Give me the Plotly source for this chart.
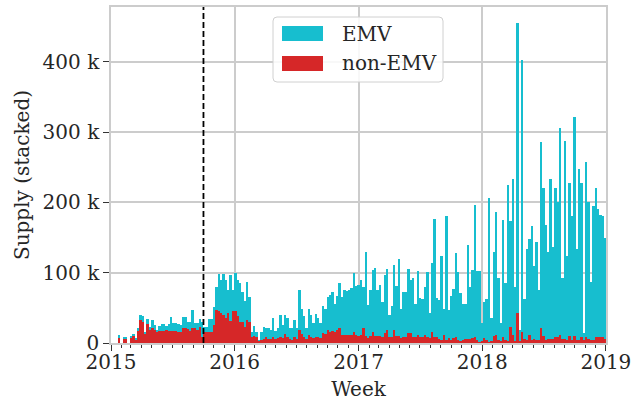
import pandas as pd
import plotly.graph_objects as go

# Weekly supply (thousands), week labels are Sundays starting 2015-01-04
non_emv_k = [0, 0, 0, 8.5, 0, 7, 7, 0, 7.5, 10, 4.5, 17, 33, 30, 14, 27, 19, 21, 19, 15.5,
             17.5, 17, 17.5, 18.5, 17, 17.5, 17.5, 17.5, 16, 15, 22, 22, 20, 17.5, 22, 21, 18, 23, 9, 16,
             16, 16, 16, 26, 47, 45, 42, 40, 36, 42, 32, 45, 45, 38, 30, 30, 23, 33, 30, 9,
             10, 8, 3, 4, 6, 9, 6, 5, 9, 6, 7, 9, 7, 13, 9, 5, 4, 8, 6, 18,
             13, 8, 5, 11, 8, 7, 8, 8, 7, 14, 13, 18, 15, 17, 15, 18, 22, 11, 12, 12,
             11, 11, 16, 11, 10, 11, 21, 10, 7, 10, 16, 10, 10, 10, 9, 14, 18, 9, 9, 18,
             10, 10, 7, 9, 9, 14, 14, 9, 9, 11, 9, 9, 11, 9, 7, 16, 9, 9, 6, 4,
             12, 4, 7, 4, 7, 9, 4, 3, 4, 6, 6, 6, 7, 9, 4, 2, 3, 7, 4, 2,
             3, 10, 11, 4, 3, 8, 4, 3, 23, 11, 3, 43, 3, 16, 5, 4, 11, 4, 5, 4,
             4, 21, 10, 4, 5, 6, 6, 9, 8, 12, 6, 6, 4, 10, 4, 10, 4, 4, 8, 4,
             9, 6, 4, 4, 8, 8, 8, 8, 6]

emv_k = [0, 0, 0, 2.5, 0, 2, 2, 0, 2.5, 3, 2, 4, 7, 8, 2, 7, 4, 12, 7, 3,
         6.5, 9.5, 9, 5.5, 9.5, 19.5, 10.5, 11.5, 11, 10.5, 15, 15, 10, 12.5, 25, 7, 11, 11, 21, 7,
         7, 18, 18, 25, 32, 53, 48, 58, 53, 33, 65, 30, 54, 52, 55, 43, 37, 54, 36, 7,
         14, 8, 1, 12, 17, 13, 15, 14, 27, 11.5, 14, 31, 19, 27, 27, 17, 18, 25, 16, 57,
         36, 30, 17, 38, 32, 21, 33, 27, 22, 38, 36, 48, 53, 55, 40, 49, 64, 54, 63, 62,
         64, 67, 83, 70, 72, 79, 59, 120, 47, 65, 88, 96, 65, 72, 50, 83, 87, 31, 44, 93,
         71, 109, 41, 64, 63, 91, 76, 84, 46, 92, 55, 53, 68, 92, 35, 98, 168, 55, 55, 120,
         37, 176, 40, 63, 70, 119, 97, 68, 52, 50, 134, 73, 97, 187, 98, 100, 25, 52, 58, 204,
         32, 120, 176, 88, 25, 167, 81, 222, 151, 222, 76, 412, 15, 386, 58, 130, 137, 162, 104, 140,
         71, 265, 211, 164, 125, 227, 131, 212, 192, 294, 86, 282, 120, 218, 177, 312, 130, 244, 220, 10,
         249, 194, 83, 191, 212, 183, 174, 173, 143]

weeks = pd.date_range("2015-01-04", periods=len(emv_k), freq="7D")

year_ticks = ["2015-01-01", "2016-01-01", "2017-01-01", "2018-01-01", "2019-01-01"]
year_labels = ["2015", "2016", "2017", "2018", "2019"]
y_ticks = [0, 100, 200, 300, 400]
y_labels = ["0", "100 k", "200 k", "300 k", "400 k"]
cutoff_date = "2015-10-01"

TEAL = "#17becf"
RED = "#d62728"
GRID = "#cccccc"
TXT = "#262626"
FONT = "DejaVu Serif"
week_ms = 7 * 24 * 3600 * 1000

fig = go.Figure()
fig.add_trace(go.Bar(x=weeks, y=non_emv_k, name="non-EMV", marker=dict(color=RED, line=dict(width=0)),
                     width=week_ms, showlegend=False))
fig.add_trace(go.Bar(x=weeks, y=emv_k, name="EMV", marker=dict(color=TEAL, line=dict(width=0)),
                     width=week_ms, showlegend=False))

# px -> paper helpers for legend box
L, R, T, B = 111, 606, 7, 343
def px(x):
    return (x - L) / (R - L)
def py(y):
    return (B - y) / (B - T)

x0, x1, y0, y1 = px(273), px(443), py(82), py(17)
rx, ry = 4 / (R - L), 4 / (B - T)
legend_path = (f"M {x0+rx},{y0} L {x1-rx},{y0} Q {x1},{y0} {x1},{y0+ry} L {x1},{y1-ry} Q {x1},{y1} {x1-rx},{y1} "
               f"L {x0+rx},{y1} Q {x0},{y1} {x0},{y1-ry} L {x0},{y0+ry} Q {x0},{y0} {x0+rx},{y0} Z")

shapes = [
    dict(type="line", xref="x", yref="paper", x0=cutoff_date, x1=cutoff_date, y0=0, y1=1,
         line=dict(color="black", width=1.8, dash="6px,3px"), layer="above"),
    dict(type="path", xref="paper", yref="paper", path=legend_path,
         line=dict(color="#d0d0d0", width=1), fillcolor="rgba(255,255,255,0.85)", layer="above"),
    dict(type="rect", xref="paper", yref="paper", x0=px(282), x1=px(323), y0=py(41), y1=py(26),
         fillcolor=TEAL, line=dict(width=0), layer="above"),
    dict(type="rect", xref="paper", yref="paper", x0=px(282), x1=px(323), y0=py(71), y1=py(56),
         fillcolor=RED, line=dict(width=0), layer="above"),
]
annotations = [
    dict(xref="paper", yref="paper", x=px(340), y=py(33.5), text="EMV", showarrow=False,
         xanchor="left", yanchor="middle", font=dict(family=FONT, size=20, color=TXT)),
    dict(xref="paper", yref="paper", x=px(340), y=py(63.5), text="non-EMV", showarrow=False,
         xanchor="left", yanchor="middle", font=dict(family=FONT, size=20, color=TXT)),
]

fig.update_layout(
    width=631, height=404,
    margin=dict(l=L, r=631 - R, t=T, b=404 - B, autoexpand=False),
    barmode="stack", bargap=0,
    paper_bgcolor="white", plot_bgcolor="white",
    font=dict(family=FONT, size=20, color=TXT),
    shapes=shapes, annotations=annotations,
    showlegend=False,
    xaxis=dict(
        type="date", range=["2015-01-01", "2019-01-01 08:00"],
        tickvals=year_ticks, ticktext=year_labels,
        ticks="outside", ticklen=6, tickwidth=1.2, tickcolor="#333333",
        ticklabelstandoff=-6, ticklabeloverflow="allow",
        minor=dict(ticks="outside", ticklen=3.5, tickwidth=1, tickcolor="#333333",
                   dtick="M1", tick0="2015-01-01", showgrid=False),
        showgrid=True, gridcolor=GRID, gridwidth=1.5,
        showline=True, linecolor=GRID, linewidth=1.5, mirror=True,
        zeroline=False,
        title=dict(text="Week", standoff=9, font=dict(family=FONT, size=20, color=TXT)),
        tickfont=dict(family=FONT, size=20, color=TXT),
    ),
    yaxis=dict(
        range=[0, 478], tickvals=y_ticks, ticktext=y_labels,
        ticks="outside", ticklen=6, tickwidth=1.2, tickcolor="#333333",
        showgrid=True, gridcolor=GRID, gridwidth=1.5,
        showline=True, linecolor=GRID, linewidth=1.5, mirror=True,
        zeroline=False,
        title=dict(text="Supply (stacked)", standoff=8, font=dict(family=FONT, size=20, color=TXT)),
        tickfont=dict(family=FONT, size=20, color=TXT),
    ),
)

fig.write_html("out.html", config={"displayModeBar": False},
               post_script="document.body.style.margin='0';document.body.style.overflow='hidden';")
